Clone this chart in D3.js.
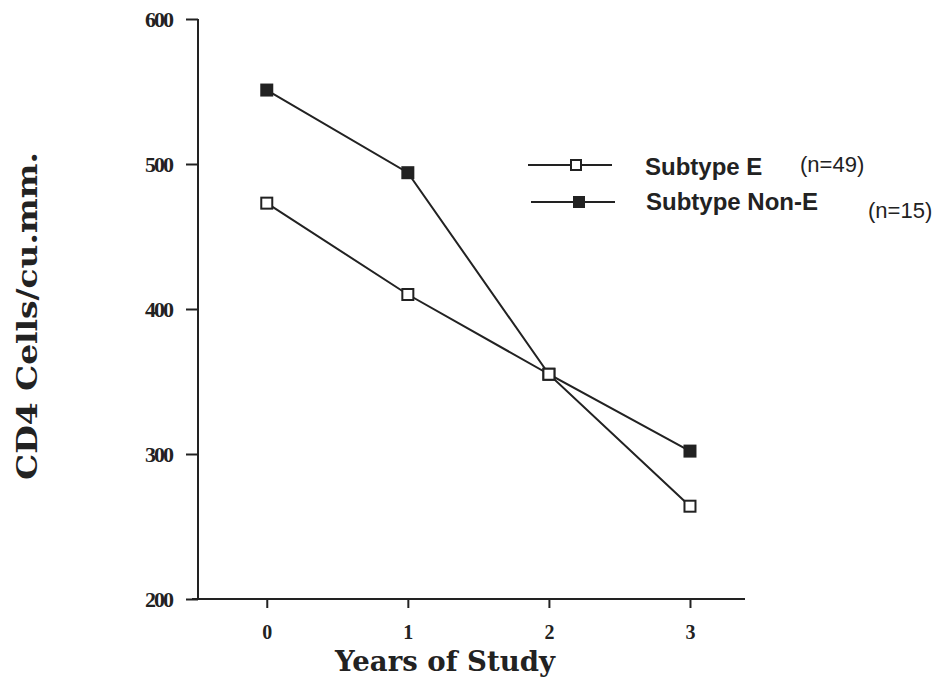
<!DOCTYPE html>
<html><head><meta charset="utf-8">
<script src="https://cdn.jsdelivr.net/npm/d3@7"></script>
<style>body{margin:0;background:#fff}</style>
</head><body>
<svg id="c" width="946" height="682"></svg>
<script>
const years = [0, 1, 2, 3];
const subtypeE = [473, 410, 355, 264];
const subtypeNonE = [551, 494, 355, 302];
const yTicks = [200, 300, 400, 500, 600];
const xTicks = [0, 1, 2, 3];
const seriesNames = ["Subtype E", "Subtype Non-E"];
const seriesN = ["(n=49)", "(n=15)"];

const svg = d3.select("#c");
const ink = "#222";
const serif = "'DejaVu Serif', 'Liberation Serif', serif";
const x = d3.scaleLinear().domain([-0.53, 3.39]).range([192, 745]);
const y = d3.scaleLinear().domain([200, 600]).range([599, 19]);
const x0 = x(-0.53);

// y axis
const yAx = svg.append("g").attr("transform", `translate(${x0 + 6},0)`)
  .call(d3.axisLeft(y).tickValues(yTicks).tickSize(12).tickPadding(14));
yAx.select(".domain").remove();
yAx.append("line").attr("x1", 0).attr("x2", 0).attr("y1", y(600)).attr("y2", y(200))
  .attr("stroke", ink).attr("stroke-width", 2);
yAx.selectAll(".tick line").attr("stroke", ink).attr("stroke-width", 2);
yAx.selectAll(".tick text").attr("fill", ink)
  .style("font-family", "'Liberation Serif', serif").style("font-weight", "bold")
  .style("font-size", "22px").attr("letter-spacing", "-2px");

// x axis
const xAx = svg.append("g").attr("transform", `translate(0,${y(200)})`)
  .call(d3.axisBottom(x).tickValues(xTicks).tickSize(9).tickPadding(17).tickFormat(d3.format("d")));
xAx.select(".domain").remove();
xAx.append("line").attr("x1", x0).attr("x2", 745).attr("y1", 0).attr("y2", 0)
  .attr("stroke", ink).attr("stroke-width", 2);
xAx.selectAll(".tick line").attr("stroke", ink).attr("stroke-width", 2);
xAx.selectAll(".tick text").attr("fill", ink)
  .style("font-family", "'Liberation Serif', serif").style("font-weight", "bold")
  .style("font-size", "20px");

// axis titles
svg.append("text").attr("transform", "translate(37,316) rotate(-90)")
  .attr("text-anchor", "middle").attr("fill", ink)
  .attr("textLength", 328).attr("lengthAdjust", "spacingAndGlyphs")
  .style("font-family", serif).style("font-weight", "bold")
  .style("font-size", "27px").text("CD4 Cells/cu.mm.");
svg.append("text").attr("x", 445).attr("y", 671)
  .attr("text-anchor", "middle").attr("fill", ink)
  .attr("textLength", 220).attr("lengthAdjust", "spacingAndGlyphs")
  .style("font-family", serif).style("font-weight", "bold")
  .style("font-size", "28px").text("Years of Study");

// series
const line = d3.line().x((d, i) => x(years[i])).y(d => y(d));
const series = [
  {vals: subtypeNonE, fill: ink},
  {vals: subtypeE, fill: "#fff"}
];
series.forEach(s => {
  svg.append("path").datum(s.vals).attr("d", line).attr("fill", "none")
    .attr("stroke", ink).attr("stroke-width", 2);
});
series.forEach(s => {
  svg.selectAll(null).data(s.vals).enter().append("rect")
    .attr("x", (d, i) => x(years[i]) - 5.5).attr("y", d => y(d) - 5.5)
    .attr("width", 11).attr("height", 11)
    .attr("fill", s.fill).attr("stroke", ink).attr("stroke-width", 2);
});

// legend
const leg = [
  {name: seriesNames[0], n: seriesN[0], fill: "#fff", ly: 165, lx: 528, tx: 645, nx: 800, ty: 175, ny: 172},
  {name: seriesNames[1], n: seriesN[1], fill: ink, ly: 202, lx: 531, tx: 646, nx: 868, ty: 210, ny: 218}
];
leg.forEach(l => {
  svg.append("line").attr("x1", l.lx).attr("x2", l.lx + 84).attr("y1", l.ly).attr("y2", l.ly)
    .attr("stroke", ink).attr("stroke-width", 2);
  svg.append("rect").attr("x", l.lx + 43).attr("y", l.ly - 5).attr("width", 10).attr("height", 10)
    .attr("fill", l.fill).attr("stroke", ink).attr("stroke-width", 2);
  svg.append("text").attr("x", l.tx).attr("y", l.ty).attr("fill", ink)
    .style("font-family", "'Liberation Sans', Arial, sans-serif").style("font-weight", "bold")
    .style("font-size", "24px").text(l.name);
  svg.append("text").attr("x", l.nx).attr("y", l.ny).attr("fill", ink)
    .style("font-family", "'Liberation Sans', Arial, sans-serif")
    .style("font-size", "22px").text(l.n);
});
</script>
</body></html>
